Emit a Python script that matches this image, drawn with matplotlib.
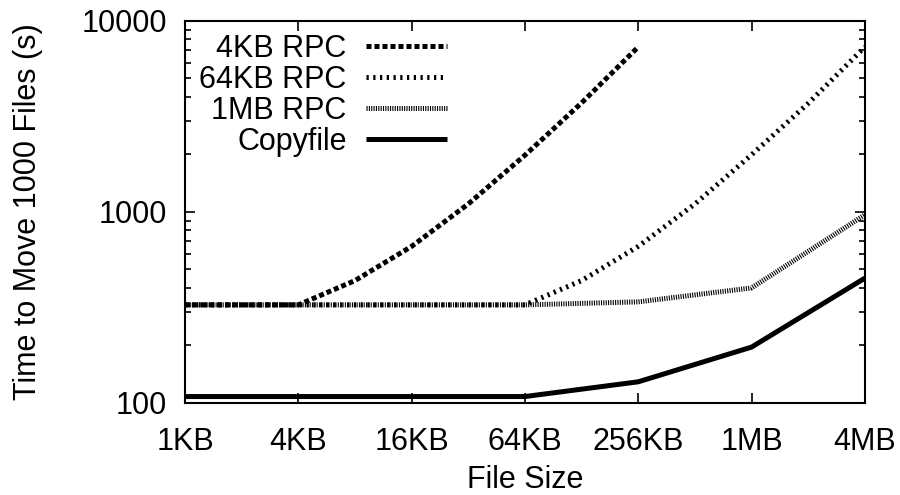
import matplotlib
matplotlib.use("Agg")
import matplotlib.pyplot as plt
from matplotlib.ticker import LogLocator, NullFormatter

plt.rcParams['font.family'] = ['Liberation Sans', 'DejaVu Sans']

# file sizes in KB
sizes_2x = [1, 2, 4, 8, 16, 32, 64, 128, 256, 512, 1024, 2048, 4096]
sizes_4x = [1, 4, 16, 64, 256, 1024, 4096]

rpc_4kb_x = [1, 2, 4, 8, 16, 32, 64, 128, 256]
rpc_4kb = [326, 326, 326, 437, 660, 1100, 1980, 3720, 7300]

rpc_64kb_x = sizes_2x
rpc_64kb = [326, 326, 326, 326, 326, 326, 326, 437, 660, 1100, 1990, 3700, 7300]

rpc_1mb_x = sizes_4x
rpc_1mb = [326, 326, 326, 326, 338, 400, 965]

copyfile_x = sizes_4x
copyfile = [108, 108, 108, 108, 129, 196, 450]

tick_pos = [1, 4, 16, 64, 256, 1024, 4096]
tick_labels = ['1KB', '4KB', '16KB', '64KB', '256KB', '1MB', '4MB']

fs = 22

fig = plt.figure(figsize=(9, 4.95), dpi=100)
ax = fig.add_axes([0.2056, 0.186, 0.7554, 0.772])

lw = 3.6
ax.plot(rpc_4kb_x, rpc_4kb, color='black', lw=lw, dashes=(1.0, 0.6),
        dash_capstyle='butt', label='4KB RPC')
ax.plot(rpc_64kb_x, rpc_64kb, color='black', lw=lw, dashes=(0.45, 0.9),
        dash_capstyle='butt', label='64KB RPC')
ax.plot(rpc_1mb_x, rpc_1mb, color='black', lw=lw, dashes=(0.22, 0.25),
        dash_capstyle='butt', label='1MB RPC')
ax.plot(copyfile_x, copyfile, color='black', lw=lw, solid_capstyle='butt',
        label='Copyfile')

ax.set_xscale('log', base=2)
ax.set_yscale('log')
ax.set_xlim(1, 4096)
ax.set_ylim(100, 10000)

ax.set_xticks(tick_pos)
ax.set_xticklabels(tick_labels)
ax.xaxis.set_minor_locator(plt.NullLocator())
ax.yaxis.set_minor_locator(LogLocator(base=10, subs=range(2, 10)))
ax.yaxis.set_minor_formatter(NullFormatter())
ax.set_yticks([100, 1000, 10000])
ax.set_yticklabels(['100', '1000', '10000'])

ax.tick_params(which='both', direction='in', top=True, right=True,
               labelsize=fs, width=1.2)
ax.tick_params(axis='x', pad=17)
ax.tick_params(axis='y', pad=13)
ax.tick_params(which='major', length=7)
ax.tick_params(which='minor', length=4)
for s in ax.spines.values():
    s.set_linewidth(1.5)

ax.set_xlabel('File Size', fontsize=fs, labelpad=6)
ax.set_ylabel('Time to Move 1000 Files (s)', fontsize=fs, labelpad=28)

ax.legend(loc='upper left', bbox_to_anchor=(-0.006, 1.013), frameon=False,
          markerfirst=False, fontsize=fs, handlelength=2.65,
          labelspacing=0.03, handletextpad=0.65, borderaxespad=0.2)

fig.savefig('out.png', dpi=100)
